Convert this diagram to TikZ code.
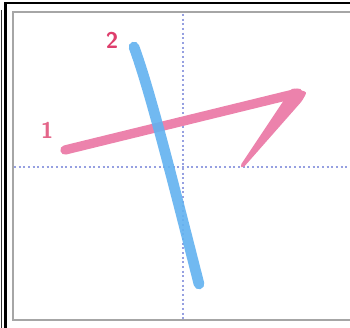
\documentclass[tikz,border=0pt]{standalone}
\usepackage{xcolor}
\usepackage{tikz}
\usetikzlibrary{positioning}

\definecolor{strokepink}{RGB}{236,130,172}
\definecolor{strokeblue}{RGB}{98,178,240}
\definecolor{numred}{RGB}{222,62,108}
\definecolor{guideblue}{RGB}{150,160,225}

\begin{document}
\begin{tikzpicture}[x=0.75pt,y=-0.75pt,
        guide/.style={guideblue,line width=1pt,dash pattern=on 1.5pt off 2pt},
        num/.style={font=\sffamily\bfseries\fontsize{17}{17}\selectfont,inner sep=0pt},
        frm/.style={gray!70,line width=1.6pt}]
        \useasboundingbox (0,0) rectangle (350,328);
        \fill[white] (0,0) rectangle (350,328);
        % frames
        \draw[black!80,line width=1.4pt] (1.5,10) -- (1.5,328);
        \draw[black,line width=1.6pt] (5.5,328) -- (5.5,3) -- (350,3);
        \draw[frm] (350,12) -- (13,12) -- (13,320) -- (350,320);
        % guides
        \coordinate (gt) at (183,14);
        \coordinate (gb) at (183,320);
        \coordinate (gl) at (14,167);
        \coordinate (gr) at (350,167);
        \draw[guide] (gt) -- (gb);
        \draw[guide] (gl) -- (gr);
        % stroke 1
        \coordinate (s1a) at (65,150);
        \coordinate (s1b) at (298,93);
        \coordinate (s1c) at (243,168);
        \draw[strokepink,line width=7pt,line cap=round] (s1a) -- (s1b);
        \fill[strokepink,rounded corners=2pt] (292,88) -- (307,92) -- (302,101) -- (s1c) -- (240,166) -- cycle;
        % stroke 2
        \coordinate (s2a) at (134,47);
        \coordinate (s2b) at (199,284);
        \draw[strokeblue,opacity=0.9,line width=8pt,line cap=round]
          (s2a) .. controls (150,90) and (175,190) .. (s2b);
        % numbers
        \node[num,numred!80] (n1) at (47,130) {1};
        \node[num,numred] (n2) at (112,40) {2};
      \end{tikzpicture}
\end{document}
